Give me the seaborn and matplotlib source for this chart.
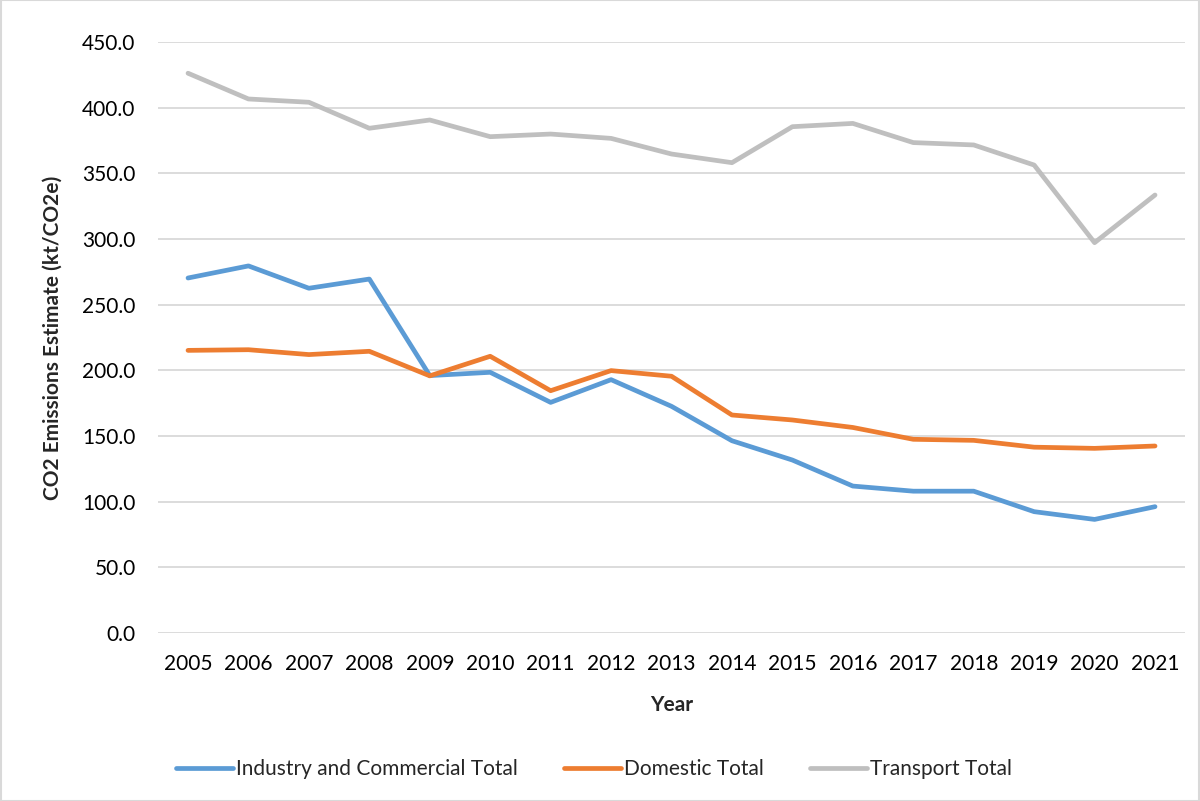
import pandas as pd
import matplotlib.pyplot as plt
import seaborn as sns
from matplotlib.ticker import FormatStrFormatter
from matplotlib.patches import Rectangle

sns.set_theme(style="white")
plt.rcParams['font.family'] = ['Lato', 'DejaVu Sans']

# --- data ---
years = [str(y) for y in range(2005, 2022)]
industry = [270.3, 279.5, 262.5, 269.5, 196.0, 198.5, 175.6, 192.9, 172.6,
            146.4, 131.7, 111.9, 108.0, 108.0, 92.4, 86.5, 96.2]
domestic = [215.2, 215.7, 212.0, 214.5, 195.8, 210.7, 184.5, 199.8, 195.5,
            166.0, 162.2, 156.5, 147.5, 146.7, 141.5, 140.6, 142.4]
transport = [426.2, 406.6, 404.1, 384.3, 390.6, 377.9, 379.9, 376.6, 364.7,
             358.1, 385.5, 388.0, 373.4, 371.6, 356.3, 297.2, 333.5]
series_names = ['Industry and Commercial Total', 'Domestic Total', 'Transport Total']

df = pd.DataFrame({'Year': years, series_names[0]: industry,
                   series_names[1]: domestic, series_names[2]: transport})
long_df = df.melt(id_vars='Year', var_name='Sector', value_name='CO2')

colors = {series_names[0]: '#5B9BD5',
          series_names[1]: '#ED7D31',
          series_names[2]: '#BFBFBF'}

fs = 15

fig = plt.figure(figsize=(12, 8.01), dpi=100)
ax = fig.add_axes([0.1315, 0.2097, 0.8562, 0.7379])

sns.lineplot(data=long_df, x='Year', y='CO2', hue='Sector', palette=colors,
             linewidth=3.4, sort=False, legend=False, ax=ax,
             solid_capstyle='round', solid_joinstyle='round')

ax.set_xlim(-0.5, len(years) - 0.5)
ax.set_ylim(0, 450)
ax.set_yticks(range(0, 451, 50))
ax.yaxis.set_major_formatter(FormatStrFormatter('%.1f'))
ax.grid(axis='y', color='#D9D9D9', linewidth=1.3)
ax.set_axisbelow(True)
for s in ax.spines.values():
    s.set_visible(False)
ax.tick_params(axis='both', length=0, labelsize=fs, colors='black')
ax.tick_params(axis='y', pad=16)
ax.tick_params(axis='x', pad=15)

ax.set_xlabel('Year', fontsize=fs, fontweight='bold', labelpad=15)
ax.set_ylabel('CO2 Emissions Estimate (kt/CO2e)', fontsize=fs,
              fontweight='bold', labelpad=14)

# legend below the plot
handles = [plt.Line2D([], [], color=colors[n], linewidth=3.4,
                      solid_capstyle='round') for n in series_names]
fig.legend(handles, series_names, loc='center', bbox_to_anchor=(0.495, 0.04),
           ncol=3, frameon=False, fontsize=fs, handlelength=2.75,
           handletextpad=0.15, columnspacing=2.2)

# thin chart border
fig.patches.append(Rectangle((0.0005, 0.0005), 0.999, 0.999, transform=fig.transFigure,
                             fill=False, edgecolor='#D9D9D9', linewidth=1.5))

fig.savefig('out.png', dpi=100)
